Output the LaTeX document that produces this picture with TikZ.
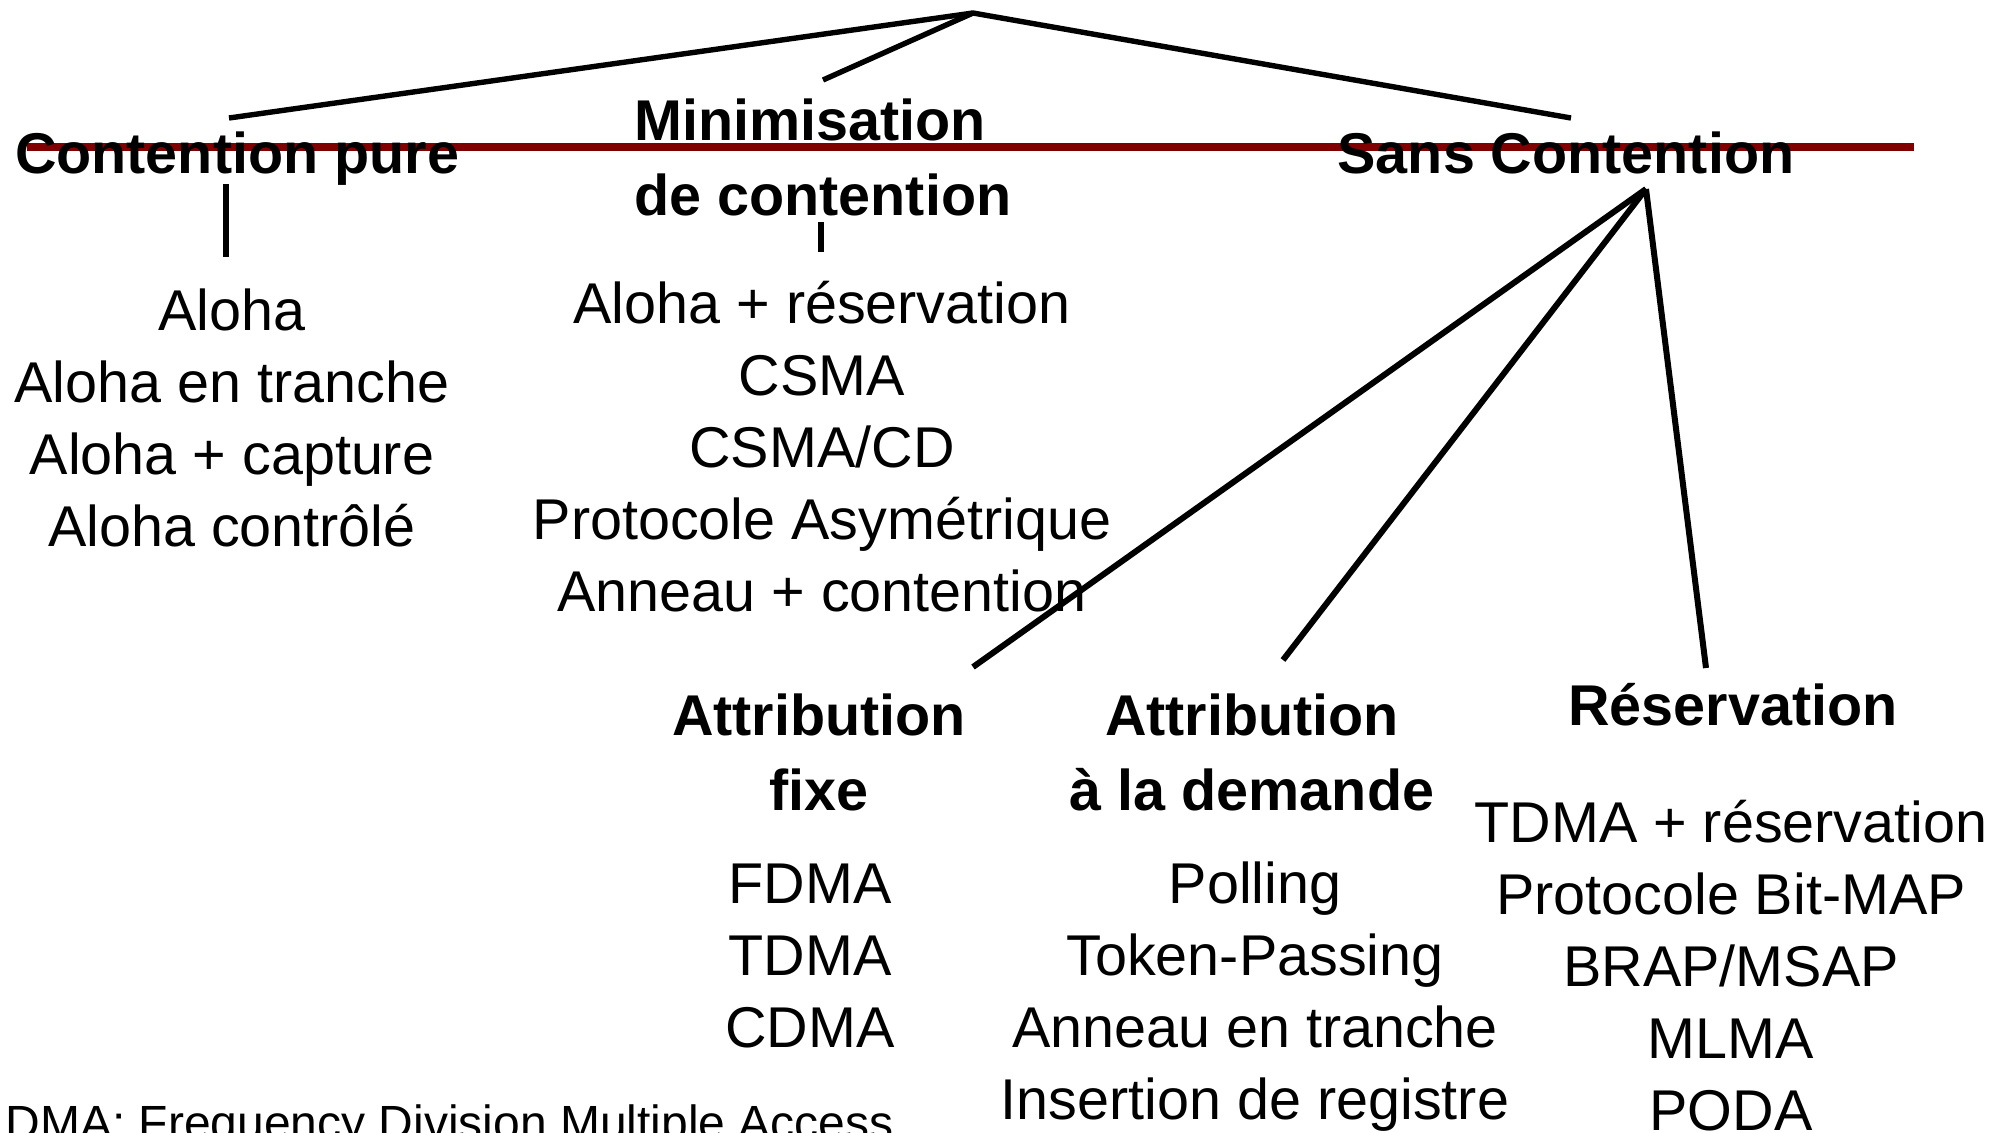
\documentclass[tikz,border=0pt]{standalone}
\usepackage{fontspec}
\setmainfont{Liberation Sans}
\definecolor{rulered}{RGB}{128,0,0}
\begin{document}
\begin{tikzpicture}[x=0.5pt,y=-0.5pt,
  item/.style={inner sep=0pt, anchor=base, font=\fontsize{28.75}{34}\selectfont},
  head/.style={inner sep=0pt, anchor=base, font=\fontsize{28.75}{34}\selectfont\bfseries},
  conn/.style={line width=2.7pt, black},
  thickconn/.style={line width=3pt, black},
  redrule/.style={line width=3.6pt, rulered}]
\clip (0,0) rectangle (2013,1132);
\fill[white] (0,0) rectangle (2013,1132);

% red horizontal rule
\coordinate (r1) at (27,147);
\coordinate (r2) at (1914,147);
\draw[redrule] (r1) -- (r2);

% connector end points
\coordinate (top) at (973,13);
\coordinate (cptop) at (229,118);
\coordinate (mctop) at (823,80);
\coordinate (sctop) at (1571,118);
\coordinate (cpt1) at (226,184);
\coordinate (cpt2) at (226,257);
\coordinate (mct1) at (821,222);
\coordinate (mct2) at (821,252);
\coordinate (scap) at (1646,189);
\coordinate (aftop) at (973,667);
\coordinate (adtop) at (1283,660);
\coordinate (rstop) at (1706,668);

% headings
\node[head] (cp) at (237,173) {Contention pure};
\node[head, anchor=base west] (mc1) at (634,140) {Minimisation};
\node[head, anchor=base west] (mc2) at (634,215) {de contention};
\node[head] (sc) at (1566,173) {Sans Contention};
\node[head] (af1) at (819,735) {Attribution};
\node[head] (af2) at (819,810) {fixe};
\node[head] (ad1) at (1252,735) {Attribution};
\node[head] (ad2) at (1252,810) {à la demande};
\node[head] (rs) at (1733,725) {Réservation};

% lists
\foreach \t [count=\i] in {Aloha, Aloha en tranche, Aloha + capture, Aloha contrôlé}
  \node[item] (ca\i) at (232,{330+72*(\i-1)}) {\t};
\foreach \t [count=\i] in {Aloha + réservation, CSMA, CSMA/CD, Protocole Asymétrique, Anneau + contention}
  \node[item] (cb\i) at (822,{323+72*(\i-1)}) {\t};
\foreach \t [count=\i] in {FDMA, TDMA, CDMA}
  \node[item] (cc\i) at (810,{903+72*(\i-1)}) {\t};
\foreach \t [count=\i] in {Polling, Token-Passing, Anneau en tranche, Insertion de registre}
  \node[item] (cd\i) at (1255,{903+72*(\i-1)}) {\t};
\foreach \t [count=\i] in {TDMA + réservation, Protocole Bit-MAP, BRAP/MSAP, MLMA, PODA}
  \node[item] (ce\i) at (1731,{842+72*(\i-1)}) {\t};

\node[inner sep=0pt, anchor=base west, font=\fontsize{24}{28}\selectfont] (foot) at (5,1139) {DMA: Frequency Division Multiple Access};

% connectors
\draw[conn] (cptop) -- (top) -- (sctop);
\draw[conn] (top) -- (mctop);
\draw[thickconn] (cpt1) -- (cpt2);
\draw[thickconn] (mct1) -- (mct2);
\draw[thickconn] (scap) -- (aftop);
\draw[thickconn] (scap) -- (adtop);
\draw[thickconn] (scap) -- (rstop);
\end{tikzpicture}
\end{document}
